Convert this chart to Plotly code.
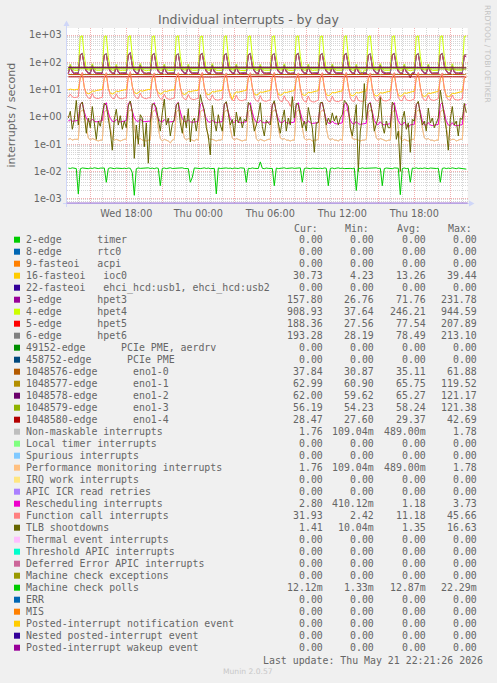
import plotly.graph_objects as go
import pandas as pd

W, H = 497, 683

# ---------------- time grid (10-minute samples, Wed 13:10 .. Thu 22:20) ----------------
t10 = pd.date_range("2026-05-20 13:10", periods=200, freq="10min")
t_enol = list(t10[::6]) + [t10[-1]]

# ---------------- series values ----------------
hpet4 = [
    52, 86, 58, 51, 50,
    51, 880, 935, 160, 57, 52, 53, 88, 58, 51, 50, 51,
    52, 890, 925, 150, 58, 51, 52, 84, 56, 50, 51, 52,
    51, 875, 944.6, 170, 57, 52, 53, 90, 58, 51, 49, 51,
    50, 885, 930, 155, 56, 51, 52, 86, 57, 50, 51, 52,
    51, 880, 940, 165, 57, 52, 53, 85, 56, 51, 50, 51,
    52, 870, 920, 150, 56, 51, 52, 89, 58, 51, 50, 51,
    51, 885, 935, 160, 57, 52, 53, 87, 57, 50, 51, 52,
    50, 880, 928, 170, 58, 51, 52, 84, 56, 51, 50, 51,
    51, 875, 938, 155, 56, 52, 53, 88, 58, 51, 49, 50,
    51, 890, 930, 165, 57, 51, 52, 86, 57, 50, 51, 51,
    52, 880, 925, 150, 56, 52, 53, 87, 58, 51, 50, 51,
    51, 885, 940, 160, 58, 51, 52, 85, 56, 50, 37.6, 52,
    50, 878, 932, 170, 57, 52, 53, 89, 58, 51, 50, 51,
    51, 884, 936, 155, 56, 51, 52, 87, 57, 51, 49, 51,
    52, 880, 928, 165, 57, 52, 53, 86, 58, 50, 51, 51,
    51, 886, 934, 160, 58, 51, 52, 88, 56, 51, 50, 52,
    51, 895, 908.93,
]
hpet3 = [
    38, 66, 44, 37, 38,
    38, 182, 214, 70, 46, 39, 38, 68, 43, 38, 37, 38,
    39, 178, 208, 66, 45, 38, 37, 64, 42, 37, 38, 39,
    38, 185, 231.8, 72, 47, 39, 38, 70, 44, 38, 36, 38,
    37, 180, 212, 68, 45, 38, 37, 66, 42, 37, 38, 38,
    38, 176, 206, 65, 46, 39, 38, 65, 43, 38, 37, 38,
    39, 183, 215, 71, 45, 38, 37, 69, 44, 38, 37, 38,
    38, 179, 210, 67, 46, 39, 38, 67, 42, 37, 38, 39,
    37, 181, 213, 70, 47, 38, 37, 64, 43, 38, 37, 38,
    38, 177, 209, 66, 45, 39, 38, 68, 44, 38, 36, 37,
    38, 184, 216, 69, 46, 38, 37, 66, 42, 37, 38, 38,
    39, 180, 211, 68, 45, 39, 38, 67, 43, 38, 37, 38,
    38, 182, 214, 72, 47, 38, 37, 65, 44, 37, 38, 39,
    37, 178, 207, 66, 46, 39, 38, 69, 42, 38, 37, 38,
    38, 183, 212, 70, 45, 38, 37, 66, 43, 38, 26.8, 38,
    39, 179, 210, 67, 46, 39, 38, 68, 44, 37, 38, 38,
    38, 181, 213, 71, 47, 38, 37, 65, 42, 38, 37, 39,
    38, 176, 157.80,
]
hpet5 = [
    41, 72, 47, 40, 41,
    41, 188, 203, 76, 49, 42, 41, 74, 46, 41, 40, 41,
    42, 185, 199, 72, 48, 41, 40, 70, 45, 40, 41, 42,
    41, 190, 207.9, 78, 50, 42, 41, 76, 47, 41, 39, 41,
    40, 186, 201, 74, 48, 41, 40, 72, 45, 40, 41, 41,
    41, 183, 198, 71, 49, 42, 41, 71, 46, 41, 40, 41,
    42, 189, 204, 77, 48, 41, 40, 75, 47, 41, 40, 41,
    41, 186, 200, 73, 49, 42, 41, 73, 45, 40, 41, 42,
    40, 187, 202, 76, 50, 41, 40, 70, 46, 41, 40, 41,
    41, 184, 199, 72, 48, 42, 41, 74, 47, 41, 39, 40,
    41, 190, 205, 75, 49, 41, 40, 72, 45, 40, 41, 41,
    42, 186, 201, 74, 48, 42, 41, 73, 46, 41, 40, 41,
    41, 188, 203, 78, 50, 41, 40, 71, 47, 40, 41, 42,
    40, 184, 198, 72, 49, 42, 41, 75, 45, 41, 40, 41,
    41, 189, 202, 76, 48, 41, 40, 72, 46, 41, 27.6, 41,
    42, 185, 200, 73, 49, 42, 41, 74, 47, 40, 41, 41,
    41, 187, 203, 77, 50, 41, 40, 71, 45, 41, 40, 42,
    41, 183, 188.36,
]
hpet6 = [
    42, 76, 48, 41, 42,
    42, 194, 209, 79, 50, 43, 42, 78, 47, 42, 41, 42,
    43, 190, 205, 75, 49, 42, 41, 74, 46, 41, 42, 43,
    42, 196, 213.1, 81, 51, 43, 42, 80, 48, 42, 40, 42,
    41, 191, 207, 77, 49, 42, 41, 76, 46, 41, 42, 42,
    42, 188, 204, 74, 50, 43, 42, 75, 47, 42, 41, 42,
    43, 195, 210, 80, 49, 42, 41, 79, 48, 42, 41, 42,
    42, 191, 206, 76, 50, 43, 42, 77, 46, 41, 42, 43,
    41, 193, 208, 79, 51, 42, 41, 74, 47, 42, 41, 42,
    42, 189, 205, 75, 49, 43, 42, 78, 48, 42, 40, 41,
    42, 196, 211, 78, 50, 42, 41, 76, 46, 41, 42, 42,
    43, 191, 207, 77, 49, 43, 42, 77, 47, 42, 41, 42,
    42, 194, 209, 81, 51, 42, 41, 75, 48, 41, 42, 43,
    41, 189, 204, 75, 50, 43, 42, 79, 46, 42, 41, 42,
    42, 195, 208, 79, 49, 42, 41, 76, 47, 42, 28.2, 42,
    43, 190, 206, 76, 50, 43, 42, 78, 48, 41, 42, 42,
    42, 193, 209, 80, 51, 42, 41, 75, 46, 42, 41, 43,
    42, 188, 193.28,
]
ioc0 = [
    9.8, 10.4, 10.0, 9.7, 10.1,
    10.2, 27, 36, 12, 7.6, 7.0, 7.4, 9.0, 8.6, 9.2, 9.6, 10.0,
    10.1, 26, 35, 11, 7.4, 6.9, 7.5, 8.8, 8.4, 9.0, 9.5, 9.8,
    9.9, 28, 39.4, 13, 7.8, 7.1, 7.6, 9.2, 8.7, 9.3, 9.7, 10.1,
    10.0, 25, 34, 11, 7.5, 6.8, 7.3, 8.9, 8.5, 9.1, 9.4, 9.7,
    9.6, 26, 35, 12, 7.2, 6.6, 7.1, 8.6, 8.3, 8.8, 9.2, 9.4,
    9.5, 27, 36, 12, 7.0, 6.5, 7.0, 8.5, 8.1, 8.7, 9.0, 9.3,
    9.3, 25, 34, 11, 6.9, 4.23, 6.8, 8.3, 8.0, 8.5, 8.9, 9.1,
    9.2, 26, 35, 12, 6.8, 6.3, 6.7, 8.2, 7.9, 8.4, 8.8, 9.0,
    9.1, 27, 36, 12, 6.7, 6.2, 6.6, 8.1, 7.8, 8.3, 8.7, 8.9,
    9.0, 25, 34, 11, 6.6, 6.1, 6.5, 8.0, 7.7, 8.2, 8.6, 8.8,
    8.9, 26, 35, 12, 6.5, 6.0, 6.4, 7.9, 7.6, 8.1, 8.5, 8.7,
    8.8, 27, 36, 12, 6.4, 5.9, 6.3, 7.8, 7.5, 8.0, 8.4, 8.6,
    8.7, 25, 34, 11, 6.3, 5.8, 6.2, 7.7, 7.4, 7.9, 8.3, 8.5,
    8.6, 26, 35, 12, 6.2, 5.7, 6.1, 7.6, 7.3, 7.8, 8.2, 8.4,
    8.5, 27, 36, 12, 6.1, 5.6, 6.0, 7.5, 7.2, 7.7, 8.1, 8.3,
    8.4, 25, 34, 11, 6.0, 5.5, 5.9, 7.4, 7.1, 7.6, 8.0, 8.2,
    8.3, 26, 30.73,
]
eno1_0 = [35.5, 35.0, 36.2, 34.8, 35.3, 35.9, 34.6, 35.1, 36.0, 34.9, 35.4, 35.8,
          34.7, 35.2, 36.1, 35.0, 34.5, 35.6, 35.3, 34.8, 35.9, 35.1, 34.6, 35.4,
          35.7, 34.9, 35.2, 36.0, 35.3, 34.7, 35.5, 35.0, 35.8, 35.2, 37.84]
eno1_1 = [65.9, 65.4, 66.2, 65.1, 65.8, 66.0, 65.3, 65.6, 66.3, 65.2, 65.7, 66.1,
          65.0, 65.5, 66.4, 65.4, 65.9, 65.6, 65.2, 66.0, 65.8, 65.3, 65.7, 66.2,
          65.1, 65.6, 65.9, 65.4, 66.0, 65.5, 65.8, 65.3, 65.7, 65.4, 62.99]
eno1_2 = [65.2, 64.9, 65.6, 65.0, 65.4, 65.7, 64.8, 65.3, 65.9, 65.1, 65.5, 65.2,
          64.7, 65.4, 65.8, 65.0, 65.3, 65.6, 64.9, 65.5, 65.2, 65.0, 65.7, 65.3,
          64.8, 65.4, 65.6, 65.1, 65.5, 65.2, 64.9, 65.6, 65.3, 65.0, 62.00]
eno1_3 = [58.1, 57.8, 58.6, 58.0, 58.4, 58.7, 57.9, 58.2, 58.8, 58.0, 58.5, 58.3,
          57.7, 58.4, 58.9, 58.1, 58.3, 58.6, 57.9, 58.5, 58.2, 58.0, 58.7, 58.3,
          57.8, 58.4, 58.6, 58.1, 58.5, 58.2, 57.9, 58.6, 58.3, 58.0, 56.19]
eno1_4 = [29.3, 29.1, 29.7, 29.2, 29.5, 29.8, 29.0, 29.4, 29.9, 29.2, 29.6, 29.3,
          28.9, 29.5, 29.8, 29.1, 29.4, 29.7, 29.0, 29.6, 29.3, 29.1, 29.8, 29.4,
          28.9, 29.5, 29.7, 29.2, 29.6, 29.3, 29.0, 29.7, 29.4, 29.2, 28.47]
nmi_vals = [
    0.15, 0.16, 0.14, 0.15, 0.15,
    0.15, 1.55, 1.75, 1.70, 0.40, 0.17, 0.14, 0.16, 0.15, 0.14, 0.13, 0.14,
    0.14, 1.52, 1.74, 1.68, 0.38, 0.16, 0.14, 0.15, 0.14, 0.13, 0.14, 0.15,
    0.15, 1.58, 1.78, 1.72, 0.42, 0.17, 0.15, 0.16, 0.14, 0.14, 0.13, 0.14,
    0.14, 1.50, 1.73, 1.66, 0.37, 0.16, 0.13, 0.15, 0.14, 0.13, 0.11, 0.14,
    0.15, 1.54, 1.76, 1.69, 0.40, 0.17, 0.14, 0.16, 0.15, 0.14, 0.13, 0.15,
    0.14, 1.56, 1.75, 1.71, 0.41, 0.16, 0.15, 0.15, 0.14, 0.13, 0.14, 0.14,
    0.15, 1.51, 1.72, 1.67, 0.38, 0.17, 0.14, 0.16, 0.15, 0.14, 0.13, 0.14,
    0.14, 1.57, 1.77, 1.70, 0.40, 0.16, 0.13, 0.15, 0.14, 0.13, 0.14, 0.15,
    0.15, 1.53, 1.74, 1.68, 0.39, 0.17, 0.15, 0.16, 0.14, 0.14, 0.13, 0.14,
    0.14, 1.55, 1.76, 1.71, 0.41, 0.16, 0.14, 0.15, 0.15, 0.13, 0.14, 0.14,
    0.15, 1.52, 1.73, 1.66, 0.38, 0.17, 0.14, 0.16, 0.14, 0.14, 0.13, 0.15,
    0.14, 1.58, 1.77, 1.72, 0.42, 0.16, 0.15, 0.15, 0.14, 0.13, 0.14, 0.14,
    0.15, 1.54, 1.75, 1.69, 0.39, 0.17, 0.14, 0.16, 0.15, 0.14, 0.13, 0.14,
    0.14, 1.50, 1.72, 1.67, 0.37, 0.16, 0.13, 0.15, 0.14, 0.13, 0.14, 0.15,
    0.15, 1.56, 1.76, 1.70, 0.40, 0.17, 0.15, 0.16, 0.14, 0.14, 0.13, 0.14,
    0.14, 1.53, 1.74, 1.68, 0.39, 0.16, 0.14, 0.15, 0.15, 0.13, 0.14, 0.15,
    0.15, 1.60, 1.76,
]
perf_mon_vals = nmi_vals  # identical readings (same Cur/Min/Avg/Max in the legend)
resched = [
    0.71, 0.78, 0.69, 0.70, 0.72,
    0.74, 2.9, 3.4, 1.5, 0.90, 0.70, 0.67, 0.82, 0.69, 0.66, 0.68, 0.70,
    0.72, 2.8, 3.3, 1.4, 0.88, 0.69, 0.66, 0.80, 0.68, 0.65, 0.67, 0.69,
    0.73, 3.0, 3.73, 1.6, 0.92, 0.71, 0.68, 0.83, 0.70, 0.67, 0.69, 0.71,
    0.70, 2.8, 3.3, 1.4, 0.87, 0.68, 0.65, 0.79, 0.67, 0.64, 0.66, 0.68,
    0.69, 2.9, 3.4, 1.5, 0.86, 0.67, 0.64, 0.78, 0.66, 0.63, 0.65, 0.67,
    0.68, 2.8, 3.3, 1.4, 0.85, 0.66, 0.63, 0.77, 0.65, 0.62, 0.64, 0.66,
    0.67, 2.9, 3.4, 1.5, 0.84, 0.65, 0.62, 0.76, 0.64, 0.61, 0.63, 0.65,
    0.66, 2.8, 3.3, 1.4, 0.83, 0.64, 0.61, 0.75, 0.63, 0.60, 0.62, 0.64,
    0.65, 2.9, 3.4, 1.5, 0.82, 0.63, 0.60, 0.74, 0.62, 0.59, 0.61, 0.63,
    0.64, 2.8, 3.3, 1.4, 0.80, 0.61, 0.58, 0.72, 0.60, 0.57, 0.59, 0.61,
    0.62, 2.9, 3.4, 1.5, 0.78, 0.59, 0.56, 0.70, 0.58, 0.55, 0.57, 0.59,
    0.60, 2.8, 3.3, 1.4, 0.76, 0.57, 0.54, 0.68, 0.56, 0.53, 0.55, 0.57,
    0.58, 2.9, 3.4, 1.5, 0.74, 0.55, 0.52, 0.66, 0.54, 0.51, 0.53, 0.55,
    0.56, 2.8, 3.3, 1.4, 0.72, 0.53, 0.50, 0.64, 0.52, 0.41, 0.51, 0.53,
    0.54, 2.9, 3.4, 1.5, 0.70, 0.51, 0.49, 0.62, 0.50, 0.48, 0.49, 0.51,
    0.53, 2.8, 3.3, 1.4, 0.69, 0.50, 0.48, 0.61, 0.49, 0.47, 0.48, 0.50,
    0.52, 2.7, 2.80,
]
func_call = [
    5.3, 6.8, 5.4, 5.1, 5.2,
    5.4, 30, 43, 12, 6.2, 4.9, 4.7, 7.2, 5.1, 4.8, 4.7, 5.0,
    5.2, 29, 42, 11, 6.0, 4.8, 4.6, 7.0, 5.0, 4.7, 4.6, 4.9,
    5.1, 31, 45.66, 13, 6.1, 4.9, 4.7, 7.3, 5.2, 4.8, 4.6, 5.0,
    5.0, 28, 41, 11, 5.8, 4.6, 4.4, 6.8, 4.8, 4.5, 4.4, 4.7,
    4.9, 29, 42, 12, 5.6, 4.5, 4.3, 6.6, 4.7, 4.4, 4.3, 4.6,
    4.7, 30, 43, 12, 5.4, 4.3, 4.1, 6.4, 4.5, 4.2, 4.1, 4.4,
    4.5, 28, 41, 11, 5.2, 4.1, 3.9, 6.2, 4.3, 4.0, 3.9, 4.2,
    4.3, 29, 42, 12, 5.0, 3.9, 3.7, 6.0, 4.1, 3.8, 3.7, 4.0,
    4.2, 30, 43, 12, 4.9, 3.8, 3.6, 5.9, 4.0, 3.7, 2.42, 3.9,
    4.1, 28, 41, 11, 4.8, 3.7, 3.5, 5.8, 3.9, 3.6, 3.5, 3.8,
    4.1, 29, 42, 12, 4.8, 3.7, 3.6, 5.8, 3.9, 3.7, 3.6, 3.9,
    4.2, 30, 43, 12, 4.9, 3.8, 3.7, 5.9, 4.0, 3.8, 3.7, 4.0,
    4.3, 28, 41, 11, 5.0, 3.9, 3.8, 6.0, 4.1, 3.9, 3.8, 4.1,
    4.4, 29, 42, 12, 5.1, 4.0, 3.9, 6.1, 4.2, 4.0, 3.9, 4.2,
    4.5, 30, 43, 12, 5.2, 4.1, 4.0, 6.2, 4.3, 4.1, 4.0, 4.3,
    4.6, 28, 41, 11, 5.3, 4.2, 4.1, 6.3, 4.4, 4.2, 4.1, 4.4,
    4.5, 28, 31.93,
]
tlb = [
    0.9, 1.6, 0.35, 0.8, 4.0,
    0.5, 2.8, 3.5, 1.2, 0.25, 0.9, 0.4, 2.4, 0.6, 0.15, 0.7, 0.45,
    1.3, 3.2, 2.6, 0.9, 0.3, 0.06, 0.8, 1.9, 0.5, 1.1, 0.35, 0.7,
    0.4, 2.5, 3.8, 1.5, 0.03, 0.5, 0.1, 1.2, 0.9, 0.08, 0.6, 0.02,
    0.6, 3.0, 2.9, 2.2, 0.7, 0.3, 1.4, 4.5, 0.5, 0.9, 0.2, 0.55,
    0.8, 2.7, 3.3, 0.6, 0.25, 1.1, 0.4, 2.0, 0.12, 0.7, 0.9, 0.3,
    1.0, 6.5, 3.1, 1.8, 0.4, 0.2, 0.04, 2.6, 0.7, 0.3, 1.2, 0.5,
    0.3, 2.9, 3.6, 1.1, 0.5, 0.8, 0.2, 1.5, 0.6, 1.0, 0.4, 0.8,
    0.7, 3.4, 2.7, 0.9, 0.3, 0.5, 1.1, 3.3, 0.45, 0.2, 0.75, 0.6,
    0.5, 2.6, 3.9, 1.4, 0.6, 0.25, 0.8, 1.8, 0.3, 0.9, 0.5, 5.5,
    0.9, 3.1, 2.8, 1.0, 0.4, 0.7, 0.3, 2.2, 0.8, 0.4, 0.05, 0.6,
    0.6, 3.3, 3.4, 1.6, 0.5, 0.9, 0.6, 1.4, 0.7, 1.1, 0.5, 0.9,
    1.2, 4.0, 3.2, 2.5, 0.4, 0.2, 0.7, 2.8, 0.01, 0.3, 0.9, 16.6,
    0.8, 2.9, 3.2, 1.3, 0.3, 0.6, 1.0, 5.2, 0.5, 0.25, 0.7, 0.4,
    0.4, 3.5, 2.6, 0.15, 0.3, 0.01, 0.8, 1.6, 0.35, 0.6, 0.05, 0.8,
    0.7, 2.8, 3.7, 1.2, 0.5, 0.7, 0.3, 2.1, 0.6, 0.9, 0.4, 0.6,
    0.9, 9.5, 2.9, 1.0, 0.35, 0.06, 0.8, 2.4, 0.5, 0.7, 0.2, 0.9,
    0.8, 3.1, 1.41,
]
mc_polls = [
    .0132, .0128, .0135, .0130, .0127,
    .0015, .0125, .0134, .0129, .0131, .0126, .0133, .0128, .0136, .0130, .0127, .0132,
    .0129, .0133, .0040, .0128, .0135, .0130, .0126, .0132, .0129, .0134, .0128, .0131,
    .0127, .0133, .0130, .0090, .00133, .0126, .0134, .0129, .0132, .0127, .0131, .0135,
    .0128, .0132, .0126, .0134, .0130, .0030, .0129, .0133, .0127, .0131, .0136, .0128,
    .0130, .0126, .0133, .0129, .0135, .0128, .0131, .0127, .0040, .0060, .0134, .0129,
    .0132, .0127, .0130, .0135, .0128, .0133, .0126, .0131, .0129, .0015, .0134, .0128,
    .0131, .0127, .0134, .0129, .0132, .0126, .0133, .0130, .0128, .0135, .0129, .0131,
    .0040, .0130, .0127, .0134, .0129, .0132, .0128, .0223, .0130, .0126, .0133, .0129,
    .0131, .0128, .0030, .0133, .0127, .0132, .0129, .0135, .0128, .0131, .0126, .0134,
    .0129, .0132, .0127, .0135, .0040, .0128, .0133, .0130, .0126, .0132, .0129, .0134,
    .0128, .0131, .0127, .0134, .0130, .0030, .0129, .0133, .0126, .0131, .0135, .0128,
    .0132, .0127, .0130, .0134, .0129, .0126, .0133, .0020, .0131, .0128, .0135, .0129,
    .0130, .0134, .0127, .0132, .0129, .0135, .0128, .0131, .0030, .0127, .0133, .0129,
    .0132, .0126, .0134, .0129, .0131, .0014, .0128, .0133, .0127, .0130, .0040, .0132,
    .0129, .0135, .0127, .0131, .0128, .0134, .0130, .0126, .0133, .0129, .0132, .0128,
    .0131, .0040, .0129, .0134, .0127, .0132, .0128, .0135, .0130, .0126, .0133, .0129,
    .0130, .0127, .01212,
]

# ---------------- legend table ----------------
legend_names = [
    "2-edge      timer", "8-edge      rtc0", "9-fasteoi   acpi", "16-fasteoi   ioc0",
    "22-fasteoi   ehci_hcd:usb1, ehci_hcd:usb2", "3-edge      hpet3", "4-edge      hpet4",
    "5-edge      hpet5", "6-edge      hpet6", "49152-edge      PCIe PME, aerdrv",
    "458752-edge      PCIe PME", "1048576-edge      eno1-0", "1048577-edge      eno1-1",
    "1048578-edge      eno1-2", "1048579-edge      eno1-3", "1048580-edge      eno1-4",
    "Non-maskable interrupts", "Local timer interrupts", "Spurious interrupts",
    "Performance monitoring interrupts", "IRQ work interrupts", "APIC ICR read retries",
    "Rescheduling interrupts", "Function call interrupts", "TLB shootdowns",
    "Thermal event interrupts", "Threshold APIC interrupts", "Deferred Error APIC interrupts",
    "Machine check exceptions", "Machine check polls", "ERR", "MIS",
    "Posted-interrupt notification event", "Nested posted-interrupt event",
    "Posted-interrupt wakeup event",
]
legend_colors = [
    "#00CC00", "#0066B3", "#FF8000", "#FFCC00", "#330099", "#990099", "#CCFF00", "#FF0000",
    "#808080", "#008F00", "#00487D", "#B35A00", "#B38F00", "#6B006B", "#8FB300", "#B30000",
    "#BEBEBE", "#80FF80", "#80C9FF", "#FFC080", "#FFE680", "#AA80FF", "#EE00CC", "#FF8080",
    "#666600", "#FFBFFF", "#00FFCC", "#CC6699", "#999900", "#00CC00", "#0066B3", "#FF8000",
    "#FFCC00", "#330099", "#990099",
]
Z = "0.00"
cur_vals = [Z, Z, Z, "30.73", Z, "157.80", "908.93", "188.36", "193.28", Z, Z, "37.84", "62.99",
            "62.00", "56.19", "28.47", "1.76", Z, Z, "1.76", Z, Z, "2.80", "31.93", "1.41",
            Z, Z, Z, Z, "12.12m", Z, Z, Z, Z, Z]
min_vals = [Z, Z, Z, "4.23", Z, "26.76", "37.64", "27.56", "28.19", Z, Z, "30.87", "60.90",
            "59.62", "54.23", "27.60", "109.04m", Z, Z, "109.04m", Z, Z, "410.12m", "2.42",
            "10.04m", Z, Z, Z, Z, "1.33m", Z, Z, Z, Z, Z]
avg_vals = [Z, Z, Z, "13.26", Z, "71.76", "246.21", "77.54", "78.49", Z, Z, "35.11", "65.75",
            "65.27", "58.24", "29.37", "489.00m", Z, Z, "489.00m", Z, Z, "1.18", "11.18",
            "1.35", Z, Z, Z, Z, "12.87m", Z, Z, Z, Z, Z]
max_vals = [Z, Z, Z, "39.44", Z, "231.78", "944.59", "207.89", "213.10", Z, Z, "61.88",
            "119.52", "121.17", "121.38", "42.69", "1.78", Z, Z, "1.78", Z, Z, "3.73", "45.66",
            "16.63", Z, Z, Z, Z, "22.29m", Z, Z, Z, Z, Z]
col_headers = ["Cur:", "Min:", "Avg:", "Max:"]

y_tick_vals = [1e-3, 1e-2, 1e-1, 1e0, 1e1, 1e2, 1e3]
y_tick_text = ["1e-03", "1e-02", "1e-01", "1e+00", "1e+01", "1e+02", "1e+03"]
x_tick_vals = ["2026-05-20 15:00", "2026-05-20 18:00", "2026-05-20 21:00", "2026-05-21 00:00",
               "2026-05-21 03:00", "2026-05-21 06:00", "2026-05-21 09:00", "2026-05-21 12:00",
               "2026-05-21 15:00", "2026-05-21 18:00", "2026-05-21 21:00"]
x_tick_text = ["", "Wed 18:00", "", "Thu 00:00", "", "Thu 06:00", "", "Thu 12:00", "",
               "Thu 18:00", ""]

# ---------------- sanity ----------------
for nm, arr in [("hpet4", hpet4), ("hpet3", hpet3), ("hpet5", hpet5), ("hpet6", hpet6),
                ("ioc0", ioc0), ("nmi", nmi_vals), ("resched", resched), ("func", func_call),
                ("tlb", tlb), ("mc", mc_polls)]:
    if len(arr) != len(t10):
        raise SystemExit(f"{nm} has {len(arr)} values")
for nm, arr in [("e0", eno1_0), ("e1", eno1_1), ("e2", eno1_2), ("e3", eno1_3), ("e4", eno1_4)]:
    if len(arr) != len(t_enol):
        raise SystemExit(f"{nm} has {len(arr)} values")

# ---------------- figure ----------------
def px(x):
    return x / W


def py(y):
    return 1 - y / H


SANS = "DejaVu Sans"
MONO = "DejaVu Sans Mono"
FONT_C = "#666666"

PLOT_L, PLOT_R, PLOT_T, PLOT_B = 66.7, 467.7, 28.0, 203.3

fig = go.Figure()

series = [
    (t10, ioc0, "#FFCC00"),
    (t10, hpet3, "#990099"),
    (t10, hpet4, "#CCFF00"),
    (t10, hpet5, "#FF0000"),
    (t10, hpet6, "#808080"),
    (t_enol, eno1_0, "#B35A00"),
    (t_enol, eno1_1, "#B38F00"),
    (t_enol, eno1_2, "#6B006B"),
    (t_enol, eno1_3, "#8FB300"),
    (t_enol, eno1_4, "#B30000"),
    (t10, nmi_vals, "#BEBEBE"),
    (t10, perf_mon_vals, "#FFC080"),
    (t10, resched, "#EE00CC"),
    (t10, func_call, "#FF8080"),
    (t10, tlb, "#666600"),
    (t10, mc_polls, "#00CC00"),
]
for xs, ys, c in series:
    fig.add_trace(go.Scatter(x=xs, y=ys, mode="lines", line=dict(color=c, width=1),
                             hoverinfo="skip", showlegend=False))

minor_y = [m * 10.0 ** e for e in range(-4, 4) for m in range(2, 10)]

MAJ_C = "#F2B0B0"
MIN_C = "#D6D6D6"
fig.update_layout(
    width=W, height=H,
    margin=dict(l=0, r=0, t=0, b=0),
    paper_bgcolor="#F0F0F0", plot_bgcolor="#FFFFFF",
    showlegend=False, hovermode=False,
    xaxis=dict(
        type="date", domain=[px(PLOT_L), px(PLOT_R)],
        range=["2026-05-20 13:02", "2026-05-21 22:27"],
        tickmode="array", tickvals=x_tick_vals, ticktext=x_tick_text,
        tickfont=dict(family=SANS, size=9.7, color=FONT_C),
        ticks="", showline=False, zeroline=False,
        showgrid=True, gridcolor=MAJ_C, griddash="1px,1px", gridwidth=1,
        minor=dict(tickmode="linear", tick0="2026-05-20 00:00", dtick=3600000,
                   showgrid=True, gridcolor=MIN_C, griddash="1px,1px", gridwidth=1),
        ticklabelstandoff=3,
    ),
    yaxis=dict(
        type="log", domain=[py(PLOT_B), py(PLOT_T)],
        range=[-3.169, 3.257],
        tickmode="array", tickvals=y_tick_vals, ticktext=y_tick_text,
        tickfont=dict(family=SANS, size=9.7, color=FONT_C),
        ticks="", showline=False, zeroline=False,
        showgrid=True, gridcolor=MAJ_C, griddash="1px,1px", gridwidth=1,
        minor=dict(tickmode="array", tickvals=minor_y,
                   showgrid=True, gridcolor=MIN_C, griddash="1px,1px", gridwidth=1),
        ticklabelstandoff=4,
    ),
)

shapes = []
AX = "#CFD6F8"
# y axis with arrow
shapes.append(dict(type="line", xref="paper", yref="paper", x0=px(66.5), x1=px(66.5),
                   y0=py(207), y1=py(24), line=dict(color=AX, width=1), layer="above"))
shapes.append(dict(type="path", xref="paper", yref="paper",
                   path=f"M {px(63.5)} {py(26)} L {px(69.5)} {py(26)} L {px(66.5)} {py(20.5)} Z",
                   fillcolor=AX, line=dict(color=AX, width=0), layer="above"))
# x axis with arrow
shapes.append(dict(type="line", xref="paper", yref="paper", x0=px(63), x1=px(471),
                   y0=py(203.5), y1=py(203.5), line=dict(color=AX, width=1), layer="above"))
shapes.append(dict(type="path", xref="paper", yref="paper",
                   path=f"M {px(469)} {py(200.5)} L {px(469)} {py(206.5)} L {px(474.5)} {py(203.5)} Z",
                   fillcolor=AX, line=dict(color=AX, width=0), layer="above"))
# zero-valued series drawn by rrdtool at the bottom edge (last one is purple)
shapes.append(dict(type="line", xref="paper", yref="paper", x0=px(PLOT_L), x1=px(PLOT_R),
                   y0=py(203.0), y1=py(203.0), line=dict(color="#A070D0", width=1), layer="above"))

annotations = []


def text(x, y, s, size, family=SANS, color=FONT_C, xanchor="center", angle=0):
    annotations.append(dict(x=px(x), y=py(y), xref="paper", yref="paper", text=s,
                            showarrow=False, xanchor=xanchor, yanchor="middle",
                            textangle=angle, borderpad=0, borderwidth=0,
                            font=dict(family=family, size=size, color=color)))


text(248.5, 19.5, "Individual interrupts - by day", 12.5)
text(11, 115.5, "interrupts / second", 11.1, angle=-90)
text(487, 54, "RRDTOOL / TOBI OETIKER", 7.6, color="#C4C4C4", angle=90)
text(248, 671.7, "Munin 2.0.57", 7.6, color="#C8C8C8")

val_right = [322.7, 374.0, 425.7, 476.7]
for hdr, xr in zip(col_headers, val_right):
    text(xr - 5, 228.5, hdr, 9.9, family=MONO, xanchor="right")

ROW0, ROWH = 239.7, 12.0
for i, nm in enumerate(legend_names):
    y = ROW0 + ROWH * i
    shapes.append(dict(type="rect", xref="paper", yref="paper", x0=px(14), x1=px(20),
                       y0=py(y + 3), y1=py(y - 3), fillcolor=legend_colors[i],
                       line=dict(width=0), layer="above"))
    text(26, y, nm.replace(" ", "\u00a0"), 9.9, family=MONO, xanchor="left")
    for vals, xr in zip((cur_vals, min_vals, avg_vals, max_vals), val_right):
        text(xr, y, vals[i], 9.9, family=MONO, xanchor="right")

text(483, 660, "Last update: Thu May 21 22:21:26 2026".replace(" ", "\u00a0"), 9.9,
     family=MONO, xanchor="right")

fig.update_layout(shapes=shapes, annotations=annotations)
fig.write_html(
    "out.html",
    config={"displayModeBar": False, "staticPlot": True},
    post_script="document.body.style.margin='0';document.body.style.padding='0';"
                "document.body.style.overflow='hidden';",
)
